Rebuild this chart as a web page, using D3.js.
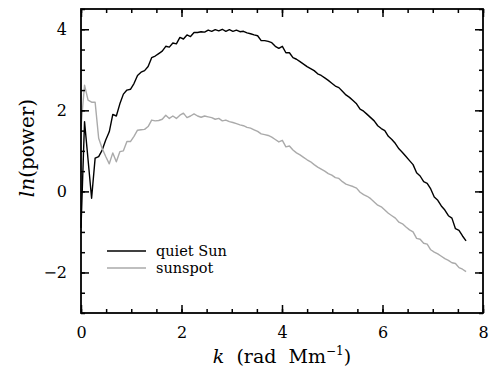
<!DOCTYPE html>
<html><head><meta charset="utf-8">
<script src="https://cdn.jsdelivr.net/npm/d3@7"></script>
<style>body{margin:0;background:#fff}svg{display:block}</style>
</head><body>
<script>
const kStep = 0.0703;
const quietSun = [-0.9,1.72,0.78,-0.17,0.82,0.86,1.02,1.27,1.47,1.90,
1.86,2.16,2.40,2.50,2.52,2.66,2.86,2.94,2.98,3.08,
3.30,3.34,3.40,3.46,3.58,3.56,3.66,3.64,3.80,3.76,
3.86,3.82,3.92,3.92,3.94,3.93,3.98,3.95,3.99,3.96,
4.00,3.95,3.99,3.95,3.98,3.94,3.95,3.91,3.89,3.86,
3.84,3.72,3.72,3.70,3.67,3.58,3.53,3.58,3.42,3.42,
3.30,3.26,3.20,3.14,3.08,3.03,2.98,2.90,2.86,2.80,
2.74,2.67,2.60,2.56,2.47,2.38,2.32,2.24,2.16,2.03,
1.98,1.90,1.82,1.74,1.62,1.55,1.50,1.36,1.28,1.18,
1.05,0.96,0.86,0.76,0.66,0.46,0.38,0.24,0.20,0.06,
-0.14,-0.22,-0.36,-0.46,-0.60,-0.66,-0.92,-0.96,-1.10,-1.22];
const sunspot = [1.6,2.62,2.25,2.20,2.20,1.31,1.06,0.86,0.68,0.95,
0.73,0.98,1.00,1.23,1.23,1.36,1.51,1.52,1.53,1.60,
1.76,1.74,1.75,1.78,1.88,1.80,1.86,1.80,1.88,1.93,
1.82,1.86,1.91,1.86,1.83,1.86,1.84,1.82,1.78,1.80,
1.74,1.76,1.72,1.70,1.67,1.64,1.62,1.58,1.56,1.52,
1.48,1.42,1.40,1.38,1.34,1.28,1.22,1.26,1.10,1.12,
1.02,0.95,0.90,0.84,0.78,0.73,0.66,0.60,0.55,0.50,
0.44,0.40,0.34,0.32,0.24,0.18,0.15,0.12,0.08,-0.02,
-0.08,-0.12,-0.18,-0.26,-0.34,-0.38,-0.46,-0.54,-0.60,-0.66,
-0.76,-0.80,-0.88,-0.95,-1.00,-1.16,-1.18,-1.28,-1.30,-1.44,
-1.50,-1.54,-1.60,-1.66,-1.70,-1.76,-1.78,-1.88,-1.92,-1.98];
const xTicks = [0,2,4,6,8];
const yTicks = [-2,0,2,4];
const seriesNames = ["quiet Sun","sunspot"];
const seriesColors = ["#000000","#aaaaaa"];

const W = 493, H = 378;
const m = {left:81, right:10, top:9, bottom:65};
const svg = d3.select("body").append("svg").attr("width",W).attr("height",H);
const x = d3.scaleLinear().domain([0,8]).range([m.left, W-m.right]);
const y = d3.scaleLinear().domain([-3,4.5]).range([H-m.bottom, m.top]);
const font = "DejaVu Serif";

function toPts(vals){ return vals.map((v,i)=>[i*kStep, v]); }
const line = d3.line().x(d=>x(d[0])).y(d=>y(d[1]));

[quietSun, sunspot].forEach((s,j)=>{
  svg.append("path").attr("d", line(toPts(s))).attr("fill","none")
    .attr("stroke", seriesColors[j]).attr("stroke-width",1.4).attr("stroke-linejoin","round");
});

const xMinor = d3.range(0,8.01,0.5);
const yMinor = d3.range(-3,4.51,0.5);
function axisGroup(axis, tr){ const g = svg.append("g").attr("transform",tr).call(axis);
  g.select(".domain").remove(); g.selectAll("line").attr("stroke","#000").attr("stroke-width",1.5); return g; }

const bottomY = y.range()[0], topY = y.range()[1];
const leftX = x.range()[0], rightX = x.range()[1];

axisGroup(d3.axisBottom(x).tickValues(xMinor).tickSize(-4).tickFormat(""), `translate(0,${bottomY})`);
axisGroup(d3.axisTop(x).tickValues(xMinor).tickSize(-4).tickFormat(""), `translate(0,${topY})`);
axisGroup(d3.axisLeft(y).tickValues(yMinor).tickSize(-4).tickFormat(""), `translate(${leftX},0)`);
axisGroup(d3.axisRight(y).tickValues(yMinor).tickSize(-4).tickFormat(""), `translate(${rightX},0)`);
axisGroup(d3.axisBottom(x).tickValues(xTicks).tickSize(-8).tickPadding(14).tickFormat(d3.format("d")), `translate(0,${bottomY})`);
axisGroup(d3.axisTop(x).tickValues(xTicks).tickSize(-8).tickFormat(""), `translate(0,${topY})`);
axisGroup(d3.axisLeft(y).tickValues(yTicks).tickSize(-8).tickPadding(14).tickFormat(d=>d<0?"\u2212"+Math.abs(d):d), `translate(${leftX},0)`);
axisGroup(d3.axisRight(y).tickValues(yTicks).tickSize(-8).tickFormat(""), `translate(${rightX},0)`);
svg.selectAll(".tick text").attr("font-family",font).attr("font-size",16).attr("fill","#000");

svg.append("rect").attr("x",leftX).attr("y",topY).attr("width",rightX-leftX).attr("height",bottomY-topY)
  .attr("fill","none").attr("stroke","#000").attr("stroke-width",1.8);

const xt = svg.append("text").attr("x",(leftX+rightX)/2).attr("y",363).attr("text-anchor","middle")
  .attr("font-family",font).attr("font-size",19).style("white-space","pre");
xt.append("tspan").attr("font-style","italic").text("k");
xt.append("tspan").text("\u00a0 (rad\u00a0 Mm");
xt.append("tspan").attr("font-size",12).attr("dy",-8).text("\u22121");
xt.append("tspan").attr("dy",8).text(")");

const yt = svg.append("text").attr("transform",`translate(34,${148}) rotate(-90)`).attr("text-anchor","middle")
  .attr("font-family",font).attr("font-size",20);
yt.append("tspan").attr("font-style","italic").text("ln");
yt.append("tspan").text("(power)");

seriesNames.forEach((n,j)=>{
  const ly = 251 + j*17;
  svg.append("line").attr("x1",107).attr("x2",146).attr("y1",ly).attr("y2",ly)
    .attr("stroke",seriesColors[j]).attr("stroke-width",1.4);
  svg.append("text").attr("x",156).attr("y",ly+5).attr("font-family",font).attr("font-size",14.5).text(n);
});
</script>
</body></html>
